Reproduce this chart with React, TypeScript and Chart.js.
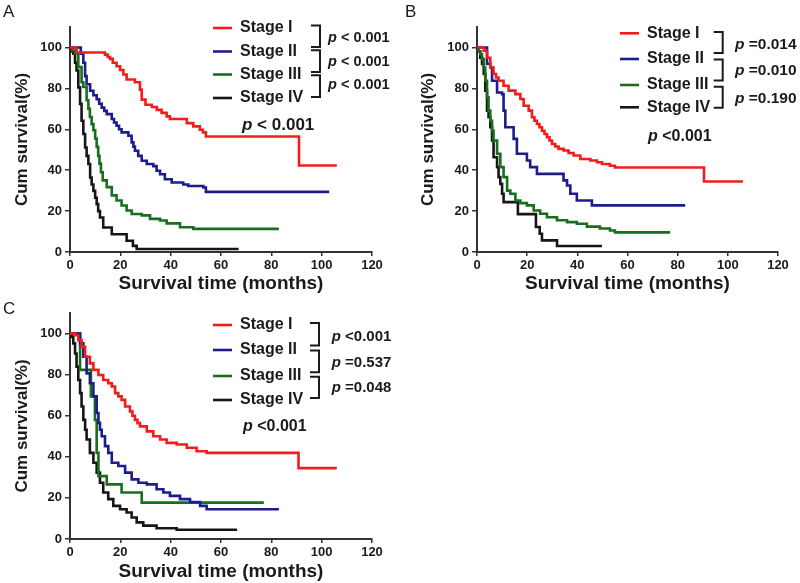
import React, { useEffect, useRef } from "react";
import { Chart, registerables } from "chart.js";

Chart.register(...registerables);

// ---------- data ----------
const X_TICKS = [0, 20, 40, 60, 80, 100, 120];
const Y_TICKS = [0, 20, 40, 60, 80, 100];
const STAGES = ["Stage I", "Stage II", "Stage III", "Stage IV"];
const X_TITLE = "Survival time (months)";
const Y_TITLE = "Cum survival(%)";

const A_P_PAIRS = ["< 0.001", "< 0.001", "< 0.001"];
const A_P_OVERALL = "< 0.001";
const B_P_PAIRS = ["=0.014", "=0.010", "=0.190"];
const B_P_OVERALL = "<0.001";
const C_P_PAIRS = ["<0.001", "=0.537", "=0.048"];
const C_P_OVERALL = "<0.001";

// [months, cumulative survival %]
const A_I = [[0,100],[2.6,97.5],[13.9,96.5],[15,95.3],[15.9,94.4],[17,92.5],[18.5,90.8],[19.9,89],[21.2,86.8],[22.5,84.3],[25.8,83],[27.8,79.4],[28.5,74.5],[30,72],[32.5,70.9],[34.5,69.5],[36.4,68],[38.4,66.3],[39.7,65],[46.4,63],[49,61.4],[51.6,59.8],[52.8,58.5],[54,56.5],[91,42.3],[106,42.3]];
const A_II = [[0,100],[3.5,100],[4.3,96.9],[5.3,92.5],[6,86],[6.6,82],[8,78.8],[9.3,76.6],[10.6,74.7],[11.6,72.5],[12.6,70.6],[13.6,69],[14.6,67.4],[16.6,65],[17.5,63.3],[18.5,61.7],[19.5,60],[20.5,58.5],[23.2,56.8],[24.5,53.6],[25.2,51.5],[25.8,49.5],[27.1,47],[28.5,44.6],[30.5,43],[33.1,42],[34.4,39.7],[35.8,38],[37.7,35.6],[40.4,34],[45,33],[47,32.3],[53,31.5],[54,29.4],[103,29.4]];
const A_III = [[0,100],[1,98.5],[2,96.9],[3.3,90.4],[4.6,83],[5.3,80.7],[6.6,74.2],[7.3,70],[7.9,66],[8.6,62.5],[9.3,59.5],[10,55.5],[10.6,51.4],[11.2,47],[11.7,43.2],[12.3,39],[13,35],[14.6,31.7],[16.6,27.7],[18.5,25.2],[20.5,22.7],[22.5,20.3],[24.5,18.6],[28.5,17.9],[31.8,16.2],[35.8,15.4],[38.4,14],[43.7,12.1],[49,11.3],[83,11.3]];
const A_IV = [[0,100],[0.7,98],[1.3,96.9],[2,92.5],[2.6,88.7],[3.3,80.5],[4,72.4],[4.6,64.2],[5.3,57.7],[6,51.1],[6.6,47],[7.3,43],[8,36.4],[8.6,33],[9.3,29.9],[10,26.5],[10.6,23.4],[11.2,20],[11.9,16.9],[13.2,12],[16.6,8.7],[22.5,5.5],[25,3],[26.5,1.5],[67,1.5]];

const B_I = [[0,100],[2.7,98.4],[4,95],[5.3,90.2],[6.6,87],[7.6,85.3],[8.6,83.7],[10.6,81.3],[12.6,78.9],[15.3,77.2],[17.3,74.8],[18.6,71.5],[20.6,69.1],[21.9,65.9],[22.9,64.2],[23.9,62.6],[24.9,61],[25.9,59.3],[26.9,57.7],[27.9,56.1],[28.9,54.5],[29.9,52.8],[31.2,51.6],[32.5,50.4],[34.5,49.6],[36.5,48.4],[38.5,47.2],[41.2,45.5],[45.2,44.7],[47.8,43.9],[49.8,43],[53,42.2],[55,41.3],[90.5,34.5],[106,34.5]];
const B_II = [[0,100],[3.3,100],[4,91.9],[5.3,90.2],[6,83.7],[8,78],[10,77.2],[10.6,69.1],[11.3,61],[14,61],[14.6,55.3],[15.9,48],[19.9,44.7],[21.2,41.5],[23.9,38.2],[34.5,35],[35.9,32.5],[37.2,28.5],[39.8,25.2],[45.8,22.8],[83,22.8]];
const B_III = [[0,100],[0.7,98],[1.3,96.7],[2,94.3],[2.7,90.2],[3.3,83.7],[4,75.6],[4.6,69.1],[5.3,64.2],[6,59.3],[6.6,54.5],[8,48],[9.3,41.5],[10.6,36.6],[12,30],[13.3,28.5],[15.3,25.2],[17.3,23.9],[19.9,22.8],[22.6,20.3],[25.2,18.7],[27.9,17],[31.9,15.5],[35.9,14.6],[39.8,13.8],[43.8,12.4],[49,11.5],[53,10.5],[55,9.6],[77,9.6]];
const B_IV = [[0,100],[0.7,98],[1.3,95],[2,91.9],[2.7,87],[3.3,78.9],[4,69.1],[4.6,65.9],[5.3,61],[6,54.5],[6.6,46.3],[8,41.5],[8.6,36.6],[9.3,33.3],[10,28.5],[10.6,24.4],[16.3,18.5],[23.5,12.2],[25,8.9],[25.9,5.7],[31.9,2.9],[49.8,2.9]];

const C_I = [[0,100],[2,99.2],[3.3,96.8],[4.6,93.5],[6,88.7],[7.9,85.5],[9.3,82.3],[11.3,79.8],[13.2,77.4],[15.2,75.8],[16.6,74.2],[17.9,71],[19.2,69.4],[20.5,67.7],[21.9,64.5],[23.8,62.1],[24.8,60],[25.8,58],[26.8,56.4],[27.8,54.8],[30.5,52.4],[33.1,50],[35.8,48.4],[38.4,46.8],[42.4,46],[46.4,44.4],[50.3,42.7],[54.3,41.9],[90.8,34.5],[106,34.5]];
const C_II = [[0,100],[3.3,100],[4,95.2],[5.3,88.7],[6.6,80.6],[7.9,75.8],[9.3,69.4],[10.6,61.3],[11.3,56.5],[11.9,53.2],[12.6,50],[13.9,45.2],[15.2,41.9],[16.6,37.1],[19.2,35.5],[21.9,32.3],[24.5,29],[27.2,27.4],[30.5,26.6],[34.4,24.2],[37.1,22.6],[39.7,21],[43.7,19.4],[47.7,18],[51.7,16.1],[54.3,14.5],[83,14.5]];
const C_III = [[0,100],[4,82.3],[8.3,69.4],[9.9,58],[10.6,41.9],[11.3,30.6],[14.6,26.6],[20.5,22.6],[28.5,17.7],[77,17.7]];
const C_IV = [[0,100],[0.7,98.4],[1.3,95.2],[2,90.3],[2.6,83.9],[3.3,77.4],[4,71],[4.6,64.5],[5.3,58],[6,53.2],[6.6,48.4],[7.9,41.9],[9.3,37.1],[10.6,32.3],[11.9,27.4],[13.2,22.6],[15.2,19.4],[17.2,16.1],[19.9,14.5],[22.5,12.9],[24.5,10.5],[26.5,8.1],[29.1,6.5],[34.4,5.2],[42.4,4.5],[66.4,4.5]];

// ---------- styles ----------
const COLORS = ["rgb(242,28,28)", "rgb(28,28,140)", "rgb(24,110,28)", "rgb(22,22,22)"];
const FONT = "'Liberation Sans', Arial, Helvetica, sans-serif";
const INK = "#1a1a1a";
const AXIS = "#333333";

type Layout = {
  left: number; top: number; width: number; height: number;
  pad: { left: number; top: number; right: number; bottom: number };
  yWidth: number; xHeight: number; yTitlePad: number; xTitlePad: number;
  letter: string; letterX: number; letterY: number;
  legendX: number; textX: number; rowsY: number[];
  bracketX: number; brackets: number[][];
  pX: number; pY: number[]; pFont: number;
  mainX: number; mainY: number; mainFont: number;
};

function drawP(ctx: CanvasRenderingContext2D, x: number, y: number, size: number, rest: string) {
  ctx.textAlign = "left";
  ctx.textBaseline = "middle";
  ctx.font = `italic bold ${size}px ${FONT}`;
  ctx.fillText("p", x, y);
  const w = ctx.measureText("p ").width;
  ctx.font = `bold ${size}px ${FONT}`;
  ctx.fillText(rest, x + w, y);
}

function makeOverlay(L: Layout, pairs: string[], overall: string) {
  return {
    id: "kmOverlay",
    afterDraw(chart: any) {
      const ctx: CanvasRenderingContext2D = chart.ctx;
      ctx.save();
      ctx.fillStyle = INK;
      ctx.textBaseline = "middle";
      ctx.textAlign = "left";
      ctx.font = `17px ${FONT}`;
      ctx.fillText(L.letter, L.letterX, L.letterY);
      // legend
      STAGES.forEach((s, i) => {
        ctx.strokeStyle = COLORS[i];
        ctx.lineWidth = 2.6;
        ctx.beginPath();
        ctx.moveTo(L.legendX, L.rowsY[i]);
        ctx.lineTo(L.legendX + 19, L.rowsY[i]);
        ctx.stroke();
        ctx.fillStyle = INK;
        ctx.font = `bold 16px ${FONT}`;
        ctx.fillText(s, L.textX, L.rowsY[i]);
      });
      // brackets
      ctx.strokeStyle = INK;
      ctx.lineWidth = 2;
      L.brackets.forEach(([y1, y2]) => {
        ctx.beginPath();
        ctx.moveTo(L.bracketX - 9, y1);
        ctx.lineTo(L.bracketX, y1);
        ctx.lineTo(L.bracketX, y2);
        ctx.lineTo(L.bracketX - 9, y2);
        ctx.stroke();
      });
      ctx.fillStyle = INK;
      pairs.forEach((p, i) => drawP(ctx, L.pX, L.pY[i], L.pFont, p));
      drawP(ctx, L.mainX, L.mainY, L.mainFont, overall);
      ctx.restore();
    },
  };
}

function Panel({ L, series, pairs, overall }: { L: Layout; series: number[][][]; pairs: string[]; overall: string }) {
  const ref = useRef<HTMLCanvasElement>(null);
  useEffect(() => {
    const chart = new Chart(ref.current!, {
      type: "line",
      data: {
        datasets: series.map((s, i) => ({
          label: STAGES[i],
          data: s.map(([x, y]) => ({ x, y })),
          borderColor: COLORS[i],
          backgroundColor: COLORS[i],
          borderWidth: 2.6,
          pointRadius: 0,
          stepped: true,
          fill: false,
        })),
      },
      options: {
        animation: false,
        responsive: false,
        events: [],
        layout: { padding: L.pad },
        plugins: { legend: { display: false }, tooltip: { enabled: false } },
        scales: {
          x: {
            type: "linear",
            min: 0,
            max: 120,
            afterBuildTicks: (s: any) => { s.ticks = X_TICKS.map((v) => ({ value: v })); },
            afterFit: (s: any) => { s.height = L.xHeight; },
            ticks: { color: INK, padding: 2.5, font: { family: FONT, size: 13, weight: "bold", lineHeight: 1 }, maxRotation: 0, autoSkip: false },
            grid: { display: true, drawOnChartArea: false, drawTicks: true, tickLength: 4, color: AXIS, lineWidth: 1.5 },
            border: { display: true, color: AXIS, width: 2 },
            title: { display: true, text: X_TITLE, color: INK, font: { family: FONT, size: 19, weight: "bold" }, padding: { top: 0, bottom: L.xTitlePad } },
          },
          y: {
            type: "linear",
            min: 0,
            max: 110,
            afterBuildTicks: (s: any) => { s.ticks = Y_TICKS.map((v) => ({ value: v })); },
            afterFit: (s: any) => { s.width = L.yWidth; },
            ticks: { color: INK, padding: 3, font: { family: FONT, size: 13, weight: "bold" }, autoSkip: false },
            grid: { display: true, drawOnChartArea: false, drawTicks: true, tickLength: 5, color: AXIS, lineWidth: 1.5 },
            border: { display: true, color: AXIS, width: 2 },
            title: { display: true, text: Y_TITLE, color: INK, font: { family: FONT, size: 17, weight: "bold" }, padding: { top: L.yTitlePad, bottom: 0 } },
          },
        },
      } as any,
      plugins: [makeOverlay(L, pairs, overall)],
    });
    return () => chart.destroy();
  }, []);
  return (
    <canvas
      ref={ref}
      width={L.width}
      height={L.height}
      style={{ position: "absolute", left: L.left, top: L.top, width: L.width, height: L.height }}
    />
  );
}

const LAYOUT_A: Layout = {
  left: 0, top: 0, width: 400, height: 300,
  pad: { left: 0, top: 27, right: 28, bottom: 0 },
  yWidth: 70, xHeight: 48, yTitlePad: 12, xTitlePad: 5,
  letter: "A", letterX: 3, letterY: 12,
  legendX: 213, textX: 240, rowsY: [28, 51.5, 74.5, 98],
  bracketX: 320, brackets: [[25.5, 47], [50.3, 72], [75.3, 97]],
  pX: 328, pY: [38.3, 61.7, 85], pFont: 14.5,
  mainX: 242, mainY: 125, mainFont: 17,
};
const LAYOUT_B: Layout = {
  left: 400, top: 0, width: 400, height: 300,
  pad: { left: 0, top: 27, right: 22, bottom: 0 },
  yWidth: 77, xHeight: 48, yTitlePad: 18, xTitlePad: 5,
  letter: "B", letterX: 5, letterY: 12,
  legendX: 220, textX: 247, rowsY: [33.3, 59, 85, 107.3],
  bracketX: 322.7, brackets: [[32, 53], [59.5, 80.5], [86.8, 107.8]],
  pX: 335, pY: [45, 70.7, 98.3], pFont: 15.5,
  mainX: 248, mainY: 136.7, mainFont: 16,
};
const LAYOUT_C: Layout = {
  left: 0, top: 290, width: 400, height: 293,
  pad: { left: 0, top: 23, right: 28, bottom: 0 },
  yWidth: 70, xHeight: 44, yTitlePad: 12, xTitlePad: 0,
  letter: "C", letterX: 3, letterY: 19,
  legendX: 213, textX: 240, rowsY: [35, 60, 86, 110],
  bracketX: 319, brackets: [[33, 55.5], [60.5, 82.2], [86.8, 108]],
  pX: 331.7, pY: [46.7, 72.7, 98.3], pFont: 15,
  mainX: 243, mainY: 136.7, mainFont: 16,
};

export default function App() {
  return (
    <div style={{ position: "absolute", left: 0, top: 0, width: 800, height: 583, background: "#fff", overflow: "hidden" }}>
      <Panel L={LAYOUT_A} series={[A_I, A_II, A_III, A_IV]} pairs={A_P_PAIRS} overall={A_P_OVERALL} />
      <Panel L={LAYOUT_B} series={[B_I, B_II, B_III, B_IV]} pairs={B_P_PAIRS} overall={B_P_OVERALL} />
      <Panel L={LAYOUT_C} series={[C_I, C_II, C_III, C_IV]} pairs={C_P_PAIRS} overall={C_P_OVERALL} />
    </div>
  );
}
